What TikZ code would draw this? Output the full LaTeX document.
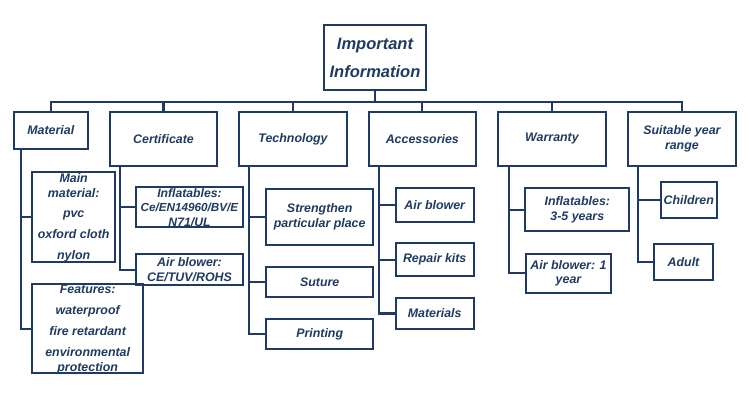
\documentclass[tikz,border=0pt]{standalone}
\usepackage{fontspec}
\setmainfont{Liberation Sans}
\definecolor{navy}{HTML}{1F3B63}
\begin{document}
\begin{tikzpicture}[x=1pt,y=-1pt,
  box/.style={draw=navy,line width=2.1pt,inner sep=0pt,rectangle},
  txt/.style={text=navy,inner sep=0pt,align=center,font=\fontsize{12.4}{14.7}\selectfont\bfseries\itshape},
  conn/.style={draw=navy,line width=2.1pt}]
\useasboundingbox (0,0) rectangle (750,400);
\fill[white] (0,0) rectangle (750,400);
% root
\node[box,minimum width=102,minimum height=65] (root) at (375,57.5) {};
\node[txt,font=\fontsize{16.5}{28}\selectfont\bfseries\itshape] (rootT) at (root.center) {Important\\Information};
% level 1
\node[box,minimum width=73.7,minimum height=37] (mat) at (50.8,130.5) {};
\node[txt] (matT) at (mat.center) {Material};
\node[box,minimum width=107.5,minimum height=54] (cert) at (163.5,139) {};
\node[txt] (certT) at (cert.center) {Certificate};
\node[box,minimum width=107.5,minimum height=54] (tech) at (293,139) {};
\node[txt] (techT) at (tech.center) {Technology};
\node[box,minimum width=107.5,minimum height=54] (acc) at (422.3,139) {};
\node[txt] (accT) at (acc.center) {Accessories};
\node[box,minimum width=107.5,minimum height=54] (war) at (552,139) {};
\node[txt] (warT) at (war.center) {Warranty};
\node[box,minimum width=107.5,minimum height=54] (suit) at (681.9,139) {};
\node[txt] (suitT) at (suit.center) {Suitable year\\range};
% bus
\coordinate (bus) at ([yshift=-11pt]root.south);
\draw[conn] (root.south) -- (bus);
\foreach \n in {mat,cert,tech,acc,war,suit}
  \draw[conn] (bus) -| (\n.north);
% Material children
\node[box,minimum width=82.7,minimum height=89.4] (mm) at (73.7,217) {};
\node[txt] (mmT) at (73.7,217.5) {Main\\material:\\[5.6pt]pvc\\[6pt]oxford cloth\\[6.3pt]nylon};
\node[box,minimum width=111.3,minimum height=89] (feat) at (87.7,328.8) {};
\node[txt] (featT) at (87.7,329.5) {Features:\\[6.3pt]waterproof\\[5.9pt]fire retardant\\[6.3pt]environmental\\protection};
\coordinate (matS) at ([xshift=8pt]mat.south west);
\draw[conn] (matS) |- (mm.west);
\draw[conn] (matS) |- (feat.west);
% Certificate children
\node[box,minimum width=107.6,minimum height=39.4] (cinf) at (189.5,207) {};
\node[txt,font=\fontsize{12.2}{14.6}\selectfont\bfseries\itshape] (cinfT) at (189.5,207.5) {Inflatables:\\{\fontsize{11.7}{14.6}\selectfont Ce/EN14960/BV/E}\\N71/UL};
\node[box,minimum width=107.6,minimum height=31.3] (cair) at (189.5,269.7) {};
\node[txt] (cairT) at (cair.center) {Air blower:\\CE/TUV/ROHS};
\coordinate (certS) at ([xshift=11pt]cert.south west);
\draw[conn] (certS) |- (cinf.west);
\draw[conn] (certS) |- (cair.west);
% Technology children
\node[box,minimum width=107.3,minimum height=56.3] (tstr) at (319.7,216.8) {};
\node[txt] (tstrT) at (tstr.center) {Strengthen\\particular place};
\node[box,minimum width=107.3,minimum height=29.4] (tsut) at (319.7,282) {};
\node[txt] (tsutT) at (tsut.center) {Suture};
\node[box,minimum width=107.3,minimum height=30] (tpri) at (319.7,334.3) {};
\node[txt] (tpriT) at (tpri.center) {Printing};
\coordinate (techS) at ([xshift=11pt]tech.south west);
\draw[conn] (techS) |- (tstr.west);
\draw[conn] (techS) |- (tsut.west);
\draw[conn] (techS) |- (tpri.west);
% Accessories children
\node[box,minimum width=78,minimum height=33.4] (aair) at (434.7,205) {};
\node[txt] (aairT) at (aair.center) {Air blower};
\node[box,minimum width=78,minimum height=32.7] (arep) at (434.7,259.7) {};
\node[txt] (arepT) at (arep.center) {Repair kits};
\node[box,minimum width=78,minimum height=31] (amat) at (434.7,313.5) {};
\node[txt] (amatT) at (amat.center) {Materials};
\coordinate (accS) at ([xshift=11.7pt]acc.south west);
\draw[conn] (accS) |- (aair.west);
\draw[conn] (accS) |- (arep.west);
\draw[conn] (accS) |- (amat.west);
% Warranty children
\node[box,minimum width=104,minimum height=43] (winf) at (577.3,209.8) {};
\node[txt] (winfT) at (winf.center) {Inflatables:\\3-5 years};
\node[box,minimum width=85,minimum height=39] (wair) at (568.5,273.2) {};
\node[txt] (wairT) at (wair.center) {Air blower: 1\\year};
\coordinate (warS) at ([xshift=11.4pt]war.south west);
\draw[conn] (warS) |- (winf.west);
\draw[conn] (warS) |- (wair.west);
% Suitable children
\node[box,minimum width=56.3,minimum height=35.4] (ych) at (688.8,200) {};
\node[txt] (ychT) at (ych.center) {Children};
\node[box,minimum width=58.4,minimum height=36.3] (yad) at (683.5,262.2) {};
\node[txt] (yadT) at (yad.center) {Adult};
\coordinate (suitS) at ([xshift=11pt]suit.south west);
\draw[conn] (suitS) |- (ych.west);
\draw[conn] (suitS) |- (yad.west);
\end{tikzpicture}
\end{document}
